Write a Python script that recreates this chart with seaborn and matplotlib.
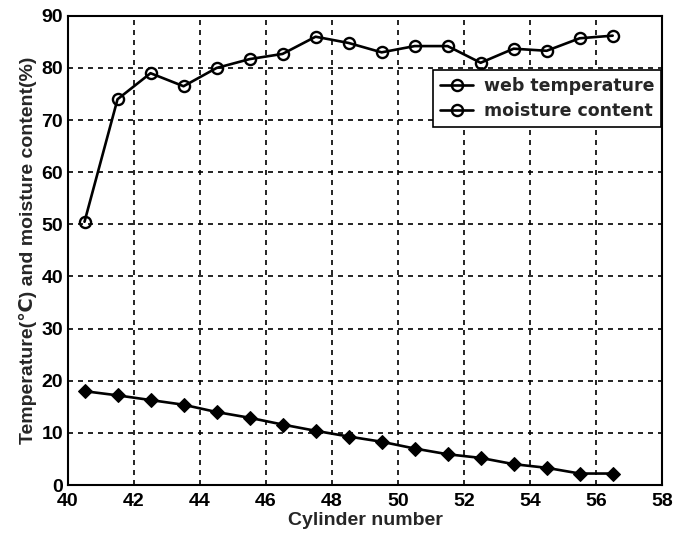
import numpy as np
import pandas as pd
import matplotlib
matplotlib.use('Agg')
import matplotlib.pyplot as plt
import seaborn as sns
from matplotlib.lines import Line2D

# Data
cylinder = [40.5, 41.5, 42.5, 43.5, 44.5, 45.5, 46.5, 47.5, 48.5,
            49.5, 50.5, 51.5, 52.5, 53.5, 54.5, 55.5, 56.5]
web_temperature = [50.5, 74.0, 79.0, 76.5, 80.0, 81.7, 82.7, 86.0, 84.8,
                   83.0, 84.2, 84.2, 81.0, 83.7, 83.3, 85.7, 86.2]
moisture_content = [18.0, 17.2, 16.3, 15.4, 14.0, 12.9, 11.6, 10.4, 9.3,
                    8.3, 7.0, 5.9, 5.2, 4.0, 3.3, 2.2, 2.2]
x_ticks = list(range(40, 59, 2))
y_ticks = list(range(0, 91, 10))

sns.set_style('white')
plt.rcParams['font.family'] = ['Liberation Sans', 'DejaVu Sans']
plt.rcParams['font.weight'] = 'bold'

df = pd.DataFrame({'cylinder': cylinder, 'web': web_temperature,
                   'moisture': moisture_content})

fig = plt.figure(figsize=(6.76, 5.43), dpi=100)
ax = fig.add_axes([0.1006, 0.1068, 0.879, 0.864])

sns.lineplot(data=df, x='cylinder', y='web', ax=ax, color='black', lw=1.9,
             marker='o', markersize=8, markerfacecolor='none',
             markeredgecolor='black', markeredgewidth=1.7)
sns.lineplot(data=df, x='cylinder', y='moisture', ax=ax, color='black', lw=1.9,
             marker='D', markersize=7, markerfacecolor='black',
             markeredgecolor='black')

ax.set_xlim(40, 58)
ax.set_ylim(0, 90)
ax.set_xticks(x_ticks)
ax.set_yticks(y_ticks)
ax.tick_params(direction='in', length=4, labelsize=14, colors='black')
ax.tick_params(axis='x', pad=6)
for lbl in ax.get_xticklabels() + ax.get_yticklabels():
    lbl.set_fontweight('bold')
ax.grid(True, color='black', linestyle=(0, (3, 3)), linewidth=1.2)
for s in ax.spines.values():
    s.set_color('black')
    s.set_linewidth(1.5)

ax.set_xlabel('Cylinder number', fontsize=14, fontweight='bold', labelpad=1)
ax.set_ylabel('Temperature(\u2103) and moisture content(%)', fontsize=14,
              fontweight='bold', labelpad=3)

handles = [Line2D([], [], color='black', lw=1.9, marker='o', markersize=8,
                  markerfacecolor='none', markeredgewidth=1.7),
           Line2D([], [], color='black', lw=1.9, marker='o', markersize=8,
                  markerfacecolor='none', markeredgewidth=1.7)]
leg = ax.legend(handles, ['web temperature', 'moisture content'],
                loc='upper right', bbox_to_anchor=(0.998, 0.885),
                frameon=True, fancybox=False, handlelength=1.9,
                handletextpad=0.6, borderpad=0.4, labelspacing=0.4,
                borderaxespad=0,
                prop={'family': 'DejaVu Sans', 'weight': 'bold', 'size': 12.5})
leg.get_frame().set_edgecolor('black')
leg.get_frame().set_linewidth(1.2)
leg.get_frame().set_alpha(1)

fig.savefig('out.png', dpi=100)
